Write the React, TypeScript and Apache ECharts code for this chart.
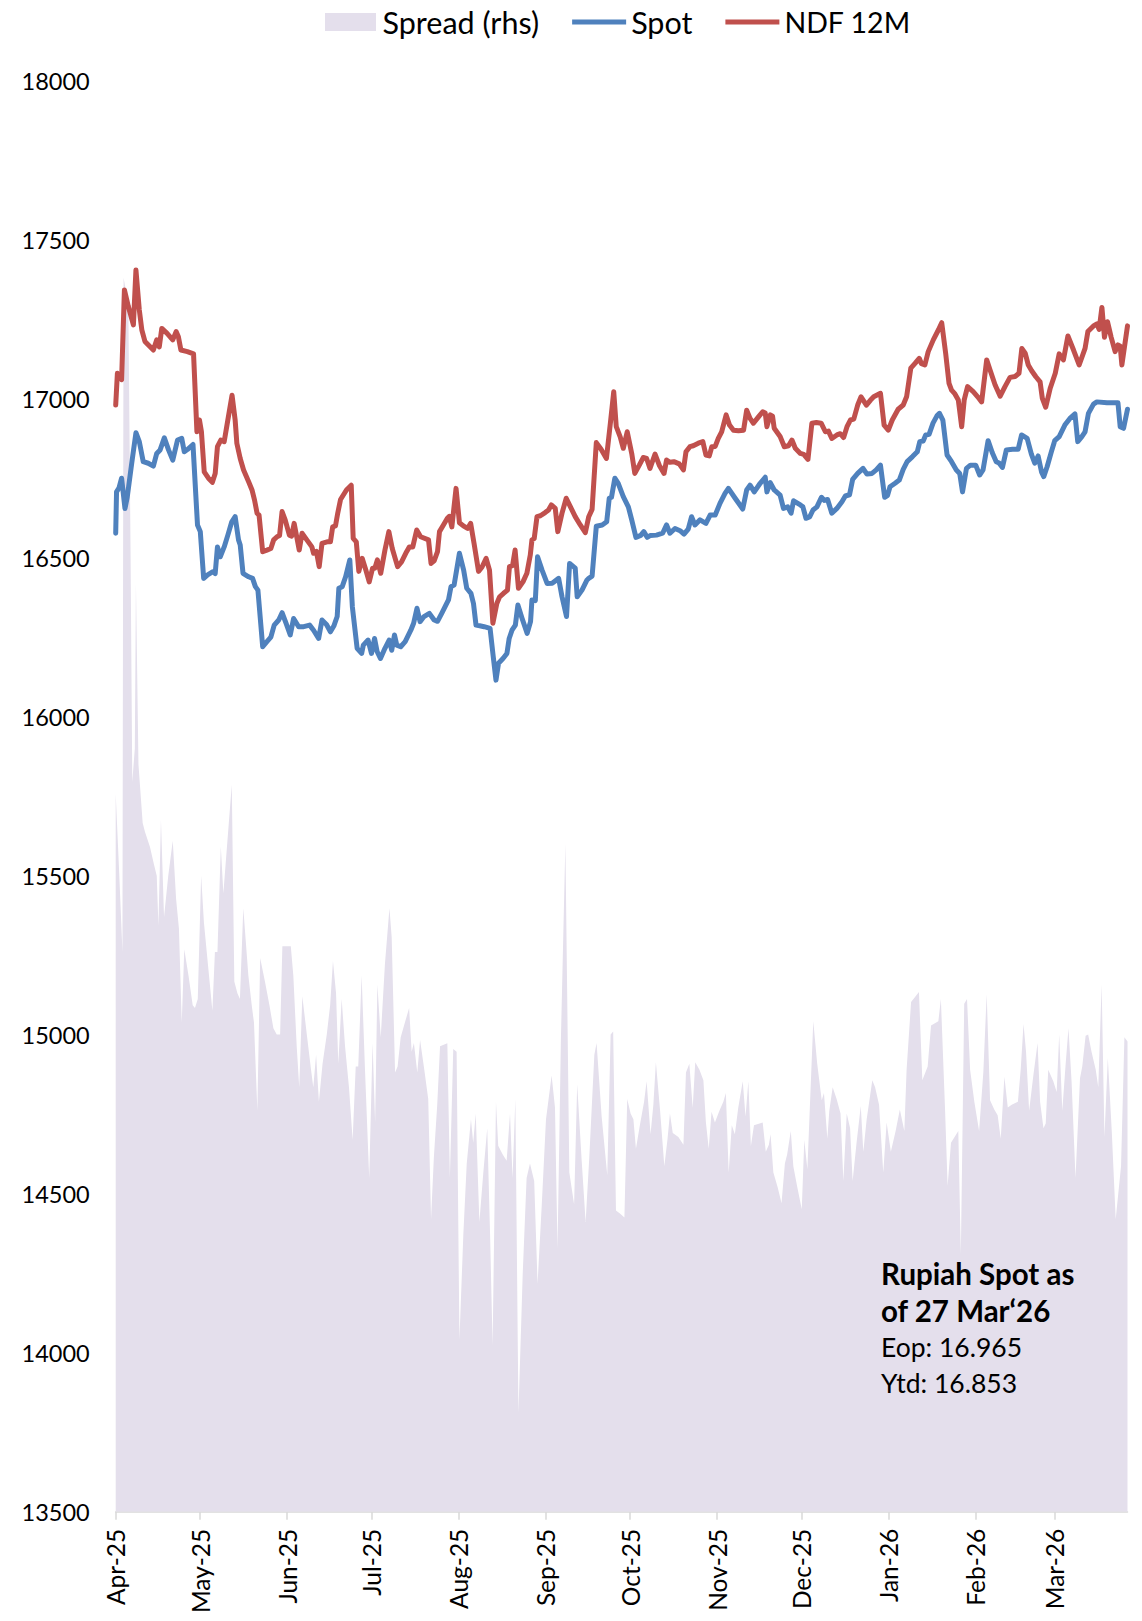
import React, { useEffect, useRef } from 'react';
import * as echarts from 'echarts';

// Day offsets are counted from 1 Apr 2025.
const startDate = '2025-04-01';

const tickDates = ['2025-04-01','2025-05-01','2025-06-01','2025-07-01','2025-08-01','2025-09-01','2025-10-01','2025-11-01','2025-12-01','2026-01-01','2026-02-01','2026-03-01'];
const tickLabels = ['Apr-25','May-25','Jun-25','Jul-25','Aug-25','Sep-25','Oct-25','Nov-25','Dec-25','Jan-26','Feb-26','Mar-26'];
const lastDate = '2026-03-27';

const yTicks = { min: 13500, max: 18000, step: 500 };

const ndf12m: [number, number][] = [
  [0,16980],[0.6,17080],[2.1,17060],[3.1,17342],[4.5,17290],[6.3,17232],[7.2,17405],[8.4,17279],[9.3,17216],[10.4,17180],[13.4,17153],[14.6,17185],[15.5,17163],[16.4,17221],[18.2,17206],[20.3,17185],[21.5,17211],[22.3,17195],[23.2,17153],[25.5,17148],[27.7,17141],[28.9,16896],[29.8,16933],[30.5,16896],[31.5,16770],[33,16750],[34.4,16737],[35.4,16765],[36.2,16849],[37.4,16870],[38.6,16865],[39.9,16933],[41.4,17011],[42.5,16933],[43.1,16860],[44.3,16812],[45.5,16776],[47.3,16739],[48.5,16713],[49.4,16681],[50.3,16640],[51,16634],[52.3,16519],[53.8,16524],[55.2,16529],[56.2,16556],[57.4,16566],[58.3,16570],[59.2,16645],[60.3,16619],[61.8,16571],[62.6,16568],[63.5,16608],[65.3,16524],[66.3,16577],[68,16556],[69.8,16534],[70.4,16514],[71.4,16520],[72.4,16472],[73.4,16545],[75.2,16550],[76.4,16550],[77.2,16597],[78.2,16600],[79,16640],[80,16683],[82.1,16713],[83.8,16728],[84.5,16561],[85.6,16550],[86.5,16457],[87.7,16498],
  [89,16461],[90.2,16424],[91.4,16467],[92.2,16467],[93.1,16493],[94.3,16451],[95.8,16524],[97.2,16582],[98.4,16529],[100.3,16472],[101.7,16487],[103.5,16519],[104.5,16534],[105.7,16534],[107.1,16587],[108.5,16566],[111.3,16556],[112.2,16482],[113.3,16490],[114.5,16519],[115.2,16582],[116.6,16603],[118,16624],[118.7,16630],[119.6,16597],[121.1,16718],[122.3,16610],[123.7,16600],[125.2,16592],[126.3,16608],[127.5,16545],[129.1,16457],[130.3,16470],[131.8,16498],[133,16461],[134.2,16294],[135.6,16356],[136.6,16377],[138,16388],[139.4,16398],[140.1,16472],[141.2,16475],[142.1,16524],[143.3,16404],[144.9,16424],[146.3,16451],[147.5,16508],[148.1,16556],[148.9,16560],[149.9,16629],[151.1,16632],[152.8,16642],[154,16650],[155,16666],[156.4,16655],[157.3,16582],[158.8,16640],[160.3,16687],[161.8,16660],[163.5,16629],[165.3,16603],[167.1,16579],[168.3,16629],[169.5,16652],[171,16862],[172.7,16841],[174.6,16812],[176,16923],[177.2,17022],[178.1,16912],
  [179.5,16880],[180.6,16844],[182,16896],[183.6,16828],[184.7,16765],[186.3,16791],[187.7,16815],[188.9,16812],[190.1,16781],[191.9,16826],[193.4,16791],[195.1,16765],[196,16807],[197.2,16800],[198.6,16802],[200.5,16795],[202,16776],[202.9,16833],[204.3,16849],[205.5,16852],[207.3,16860],[208.9,16865],[210,16823],[211.2,16820],[212.1,16849],[213.3,16850],[214.4,16875],[215.6,16896],[217.2,16949],[218.4,16917],[219.8,16901],[221.6,16899],[223.4,16901],[224.5,16964],[225.7,16938],[226.9,16923],[228.7,16943],[230.2,16959],[231.1,16955],[231.7,16912],[232.9,16949],[233.7,16945],[234.3,16907],[236.4,16881],[237.9,16849],[239.4,16852],[240.6,16870],[241.8,16844],[243.6,16828],[244.8,16825],[246.3,16809],[247.7,16923],[249.3,16925],[251,16923],[252.5,16896],[253.6,16898],[254.8,16875],[256.6,16886],[257.8,16890],[259,16878],[260.2,16912],[261.4,16933],[262.6,16936],[264,16980],[265.2,17006],[267.1,16980],[268.5,16995],[269.7,17006],[272.1,17017],
  [273.4,16917],[274.9,16901],[276.3,16933],[278.4,16967],[280.2,16980],[281.4,17006],[282.9,17096],[284.4,17111],[285.9,17127],[286.7,17110],[287.9,17106],[289.1,17148],[290.9,17185],[292.7,17216],[293.9,17239],[295.3,17143],[296.5,17048],[297.4,17027],[298.6,17015],[299.8,16996],[301,16912],[301.9,16996],[303.1,17038],[305.1,17022],[306.7,17006],[308.1,16990],[309.9,17122],[311.1,17090],[312.9,17043],[314.7,17008],[316.4,17038],[318.2,17067],[320,17070],[321.4,17080],[322.4,17158],[323.6,17143],[324.7,17106],[325.9,17088],[327.4,17069],[328.9,17053],[329.7,17001],[330.9,16973],[332.5,17033],[334.3,17080],[335.7,17141],[337.2,17122],[338.8,17197],[340.8,17153],[342.8,17106],[344.9,17158],[345.9,17211],[347.9,17229],[349.1,17235],[349.9,17218],[350.9,17287],[351.8,17193],[352.9,17242],[354.2,17193],[355.6,17148],[356.6,17169],[357.4,17165],[358,17106],[360,17229]
];

const spot: [number, number][] = [
  [0,16577],[0.3,16707],[1.2,16720],[2.1,16750],[3.3,16655],[4.1,16690],[5.7,16797],[7.2,16893],[8.4,16865],[9.8,16802],[11.6,16797],[13.4,16788],[14.6,16828],[15.8,16839],[17.3,16877],[18.8,16839],[20.3,16807],[22,16870],[23.5,16875],[24.4,16833],[25.5,16840],[27.5,16856],[29.1,16603],[30.1,16582],[31.3,16435],[32.7,16446],[34.6,16456],[35.4,16450],[36.2,16534],[37.2,16503],[38.6,16534],[39.9,16571],[41.3,16613],[42.5,16629],[43.7,16556],[44.3,16540],[45.3,16451],[47.3,16440],[48.7,16435],[49.7,16409],[50.6,16398],[52.3,16220],[53.8,16236],[55.2,16250],[56.4,16288],[58,16304],[59.2,16327],[60.6,16294],[62.1,16257],[63.3,16309],[65.1,16283],[66.9,16283],[69,16288],[70.4,16272],[72.2,16246],[73.4,16304],[75,16290],[76.4,16267],[77.6,16285],[78.8,16315],[79.4,16404],[80.6,16409],[81.8,16440],[83.3,16493],[84.2,16346],[85.9,16215],[87.5,16199],
  [88.1,16225],[89.8,16241],[91,16199],[92.1,16246],[93,16205],[94.2,16183],[95.8,16215],[97.3,16241],[98.2,16209],[99.2,16257],[100,16225],[101.4,16220],[103,16236],[105,16272],[106,16294],[107.2,16341],[108.3,16299],[109.7,16315],[111.6,16325],[113.3,16304],[114.5,16300],[116,16325],[117.2,16346],[118.4,16367],[119.3,16409],[120.4,16414],[122.3,16514],[123.8,16461],[124.9,16404],[126.4,16388],[127.3,16356],[128.2,16288],[129.5,16286],[131.1,16283],[133.2,16278],[134.2,16199],[135.3,16115],[136.2,16168],[137.8,16183],[139.2,16199],[140,16246],[141,16272],[142.2,16288],[143.1,16351],[144.6,16309],[146.4,16262],[147.6,16299],[148.1,16367],[149.3,16365],[150.1,16503],[151.7,16461],[153.5,16419],[155.3,16420],[157.6,16435],[158.8,16377],[160.4,16315],[161.5,16482],[163.5,16467],[164.2,16377],[165.9,16398],[167.7,16430],[168.3,16435],[169.5,16442],[171,16599],[173.1,16603],[174.7,16613],[175.6,16687],[176.4,16690],[177.6,16750],[178.8,16734],
  [180.6,16692],[182.4,16660],[183.6,16619],[185.1,16564],[186.8,16570],[187.9,16582],[189.1,16564],[190.3,16570],[192.4,16571],[194.6,16577],[196,16603],[197.2,16577],[199,16592],[200.8,16585],[202.2,16574],[203.7,16590],[204.9,16629],[206.1,16603],[207.9,16619],[210,16608],[211.5,16634],[213.3,16634],[215,16671],[216.8,16702],[218,16718],[220.4,16687],[223.1,16653],[224.5,16713],[225.7,16728],[227.2,16707],[229.3,16734],[231.1,16753],[231.7,16707],[232.9,16736],[234.3,16713],[236.4,16697],[237.6,16655],[239.1,16660],[240.3,16640],[241.2,16679],[243.6,16666],[244.5,16660],[245.6,16624],[246.9,16628],[248.1,16650],[249.5,16660],[251.1,16690],[252.1,16680],[253.3,16683],[254.8,16640],[256.6,16655],[258.4,16676],[259.6,16694],[261.1,16698],[262.2,16746],[264,16765],[265.9,16781],[267.3,16763],[269.1,16765],[270.6,16776],[272.1,16791],[273.6,16690],
  [274.6,16695],[275.5,16723],[277.3,16734],[278.8,16744],[280.2,16778],[281.6,16802],[283.5,16818],[285.2,16833],[286.1,16865],[287.3,16867],[288.2,16886],[289.4,16888],[290.8,16923],[292.2,16946],[293.1,16954],[294.3,16933],[295.8,16823],[297.4,16802],[299.1,16776],[300.3,16765],[301.3,16707],[302.7,16781],[304.1,16791],[306,16791],[307.4,16760],[308.6,16776],[310.4,16868],[311.9,16830],[313.3,16802],[314.3,16798],[315.5,16784],[316.9,16839],[319.1,16841],[321.1,16841],[322.3,16886],[324.3,16875],[325.8,16826],[327,16797],[328.2,16820],[329.4,16770],[330.2,16755],[331.4,16786],[332.9,16833],[334.1,16868],[335.7,16881],[337.7,16917],[339.5,16938],[341.3,16952],[342.3,16865],[343.7,16880],[344.9,16896],[346.1,16954],[347.9,16983],[349.1,16990],[352.7,16987],[356.6,16987],[357.4,16912],[358.6,16907],[360,16967]
];

// Spread on the (hidden) right-hand axis, 0..450
const spread: [number, number][] = [
  [0,225.8],[1.2,201.8],[2.4,176],[2.8,388],[4.5,380],[5.3,300],[5.9,229.5],[6.8,240],[7.2,292],[8.1,235],[9.6,216.6],[10.4,213.8],[12.2,209],[13.6,203.6],[14.6,200],[15.2,184.3],[16.1,217.5],[17.2,187],[18.7,200],[20.3,211],[21.5,192.6],[22.5,183.3],[23.5,153.8],[24.4,176.9],[25.9,168.6],[27.4,159.3],[28.2,158.4],[29.2,161.2],[30.4,200],[31.4,185.2],[33,170.4],[34.4,157.5],[35.3,176],[36.2,176],[37.4,209.2],[38.3,194.4],[41.3,228.6],[42.2,166.7],[43.3,163],[44.2,161.2],[45.4,189.8],[47.2,168.6],[48.4,159.3],[49.2,153.8],[50.4,126.1],[51.4,174.1],[53.1,166.7],[54.7,159.3],[56.1,152],[57.3,150.1],[58.5,150.1],[59.3,177.8],[60.8,177.8],[62.3,177.8],[63.2,168.6],[64.4,146.4],[65.3,133.5],[66.4,162.1],[68,150.1],[69.5,139],[70.3,133.5],[71.3,143.7],[72.3,128.9],[73.6,140.9],[75.1,150.1],[76.3,159.3],[77.3,173.2],[78.4,163],[79.2,140.9],[80.4,161.2],[81.6,146.4],[83,133.5],[84.3,116.9],[85.4,140],[86.3,140],[87.5,168.6],
  [88.7,139],[90.2,104.9],[91.4,147.4],[92.3,122.4],[93.1,165.8],[94.3,149.2],[95.8,172.3],[97.4,189.8],[98.2,180.6],[99.4,138.1],[100.3,140],[101.4,149.2],[102.9,153.8],[104.4,158.4],[105.3,144.6],[106.1,147.4],[107.3,138.1],[108.3,148.3],[109.8,139],[111.2,129.8],[112.2,92],[113.2,111.4],[114.4,128],[115.4,146.4],[118,147.3],[118.9,104.9],[120.1,145.5],[121.3,144.6],[122.3,54.1],[123.7,87.4],[124.9,109.5],[126.4,123.4],[127.2,116],[128.1,125.2],[129.4,91.1],[130.8,106.7],[132.2,120.6],[133.2,87.4],[134.1,52.3],[135.3,128.9],[136.1,115.1],[137.7,112.3],[139.1,110.4],[140.3,125.2],[141.2,104.9],[142.2,129.8],[143.3,31.1],[144.8,74.4],[146.2,104.9],[147.4,109.5],[148.9,104],[150.1,71.7],[151.6,96.6],[153.1,123.4],[155.1,137.2],[156.3,127.1],[157.2,82.8],[158.4,148.3],[160,210.1],[161.4,106.7],[163.1,96.6],[164.2,134.4],[165.8,110.4],[167.2,91.1],[168.5,111.4],[170.3,143.7],[171.1,147.4],[172.9,124.3],[174.9,105.8],[176.1,150.1],[177,151],[178,94.7],
  [179.4,93.8],[181,92.5],[182,129.8],[183.2,125.2],[184.2,123.4],[185.1,114.1],[186.5,121.5],[188,128.9],[188.9,135.4],[190.3,118.7],[191.3,128],[192.2,141.3],[193.7,126.1],[195.2,108.6],[196.3,116.9],[197.2,125.2],[198.2,119.1],[200.2,117.8],[202,115.4],[202.9,138.1],[204.1,140.9],[205.3,127],[206.2,141.3],[207.7,139],[209.1,135.7],[210,122.4],[211,114.1],[212,125.8],[213.2,122.4],[214.8,126.1],[216.2,128.9],[217.1,131.7],[218.1,106.7],[219.2,121.5],[220.3,118.7],[221.5,127],[223.1,135.4],[224.1,124.3],[225.1,135.4],[226,115],[227.1,121.5],[230.2,122.4],[231.3,113.2],[232.4,115.4],[233,118.7],[234,106.7],[235.5,102.1],[236.9,97],[238.1,109.5],[238.9,112.3],[240.2,119.7],[241.1,108.6],[242.5,102.1],[244.1,95.1],[245,116.9],[246.1,107.7],[248.2,154.2],[249.6,140.9],[251.2,129.4],[252,131.7],[253.2,117.3],[253.9,126.1],[255.1,133.5],[256.5,129.8],[257.9,125.2],[258.9,104],[260.1,125.2],[261.3,120.6],[262.2,104],[263.6,116],[265.1,127.6],[266,113.2],[267.2,123.4],[269.2,135.7],
  [270.2,133.5],[271.6,128],[273.1,106.7],[274.3,122.4],[275.8,113.2],[277.5,119.7],[279,126.5],[280.6,119.7],[281.4,139],[283,160.3],[285.8,163.4],[287,135.7],[288.9,140],[290.1,152.9],[292.7,154.2],[293.6,161.2],[295.1,126.1],[296,102.5],[297.2,116],[299.8,119.7],[300.7,80.9],[301.9,159.7],[302.9,161.2],[304,139],[305.5,128.9],[307.2,119.7],[308.7,138.1],[309.9,162.7],[311.1,129.4],[312.6,126.5],[313.8,124.7],[314.9,117.3],[316.2,136.8],[317.4,127.1],[318.8,128],[321,128.9],[322,139],[323,153.4],[323.9,144.6],[325,126.1],[326.5,137.2],[328,147.4],[328.9,128.9],[330.1,120.6],[330.9,122.1],[331.8,139],[333.6,135.4],[334.8,132],[335.7,150.1],[336.8,126.1],[338,140.9],[339,152],[340.1,135.4],[341.5,104.9],[343.1,136.3],[343.9,140],[345.1,149.7],[346,150.1],[347.2,144.6],[348.7,139],[349.6,133.5],[350.8,165.8],[351.8,117.8],[353,142.7],[354.4,119.7],[355.8,92],[357.7,108.6],[358.9,149.2],[360,147.9]
];

const noteLines = ['Rupiah Spot as', 'of 27 Mar\u201826', 'Eop: 16.965', 'Ytd: 16.853'];

const FONT = 'Lato';
const DAY_MS = 86400000;

function parseDate(s: string): number {
  const [y, m, d] = s.split('-').map(Number);
  return Date.UTC(y, m - 1, d);
}

export default function App() {
  const ref = useRef<HTMLDivElement>(null);
  useEffect(() => {
    document.body.style.margin = '0';
    if (!ref.current) return;
    const chart = echarts.init(ref.current, undefined, { renderer: 'svg' });
    const t0 = parseDate(startDate);
    const dayOf = (s: string) => Math.round((parseDate(s) - t0) / DAY_MS);
    const tickDays = tickDates.map(dayOf);
    const maxDay = dayOf(lastDate);

    chart.setOption({
      animation: false,
      backgroundColor: '#ffffff',
      textStyle: { fontFamily: FONT },
      grid: { left: 115.7, right: 14.5, top: 80.7, bottom: 109.3, containLabel: false },
      legend: {
        top: 1,
        left: 320,
        itemWidth: 54,
        itemHeight: 18,
        itemGap: 33,
        selectedMode: false,
        itemStyle: { borderWidth: 0 },
        textStyle: { fontFamily: FONT, fontSize: 30.5, color: '#000', lineHeight: 32 },
        data: [
          { name: 'Spread (rhs)', icon: 'path://M0,0H51V18H0Z' },
          { name: 'Spot', icon: 'path://M0,0H54V5H0Z' },
          { name: 'NDF 12M', icon: 'path://M0,0H54V5H0Z', textStyle: { fontSize: 28.5 } },
        ],
      },
      xAxis: {
        type: 'value',
        min: 0,
        max: maxDay,
        axisLine: { show: true, onZero: false, lineStyle: { color: '#D9D9D9', width: 1.5 } },
        axisTick: { show: true, length: 8, lineStyle: { color: '#D9D9D9', width: 1.5 }, customValues: tickDays },
        axisLabel: {
          customValues: tickDays,
          rotate: 90,
          margin: 17,
          fontFamily: FONT,
          fontSize: 24.5,
          color: '#000',
          formatter: (v: number) => {
            const i = tickDays.indexOf(Math.round(v));
            return i >= 0 ? tickLabels[i] : '';
          },
        },
        splitLine: { show: false },
      },
      yAxis: [
        {
          type: 'value',
          min: yTicks.min,
          max: yTicks.max,
          interval: yTicks.step,
          axisLine: { show: false },
          axisTick: { show: false },
          splitLine: { show: false },
          axisLabel: { fontFamily: FONT, fontSize: 23.5, color: '#000', margin: 26, formatter: (v: number) => String(v) },
        },
        { type: 'value', min: 0, max: 450, show: false, splitLine: { show: false } },
      ],
      series: [
        {
          name: 'Spread (rhs)',
          type: 'line',
          yAxisIndex: 1,
          data: spread,
          symbol: 'none',
          lineStyle: { width: 0 },
          itemStyle: { color: '#E4DFEC' },
          areaStyle: { color: '#E4DFEC', opacity: 1 },
          z: 1,
        },
        {
          name: 'Spot',
          type: 'line',
          data: spot,
          symbol: 'none',
          itemStyle: { color: '#4F81BD' },
          lineStyle: { color: '#4F81BD', width: 5, cap: 'round', join: 'round' },
          z: 3,
        },
        {
          name: 'NDF 12M',
          type: 'line',
          data: ndf12m,
          symbol: 'none',
          itemStyle: { color: '#C0504D' },
          lineStyle: { color: '#C0504D', width: 5, cap: 'round', join: 'round' },
          z: 4,
        },
      ],
      graphic: noteLines.map((t, i) => ({
        type: 'text',
        x: 881,
        y: [1273, 1310, 1347, 1383][i],
        z: 10,
        style: {
          text: t,
          fill: '#000',
          font: i < 2 ? 'bold 29.5px ' + FONT : '26.5px ' + FONT,
          align: 'left',
          verticalAlign: 'middle',
        },
      })),
    });
    return () => chart.dispose();
  }, []);
  return <div ref={ref} style={{ width: 1142, height: 1621 }} />;
}
